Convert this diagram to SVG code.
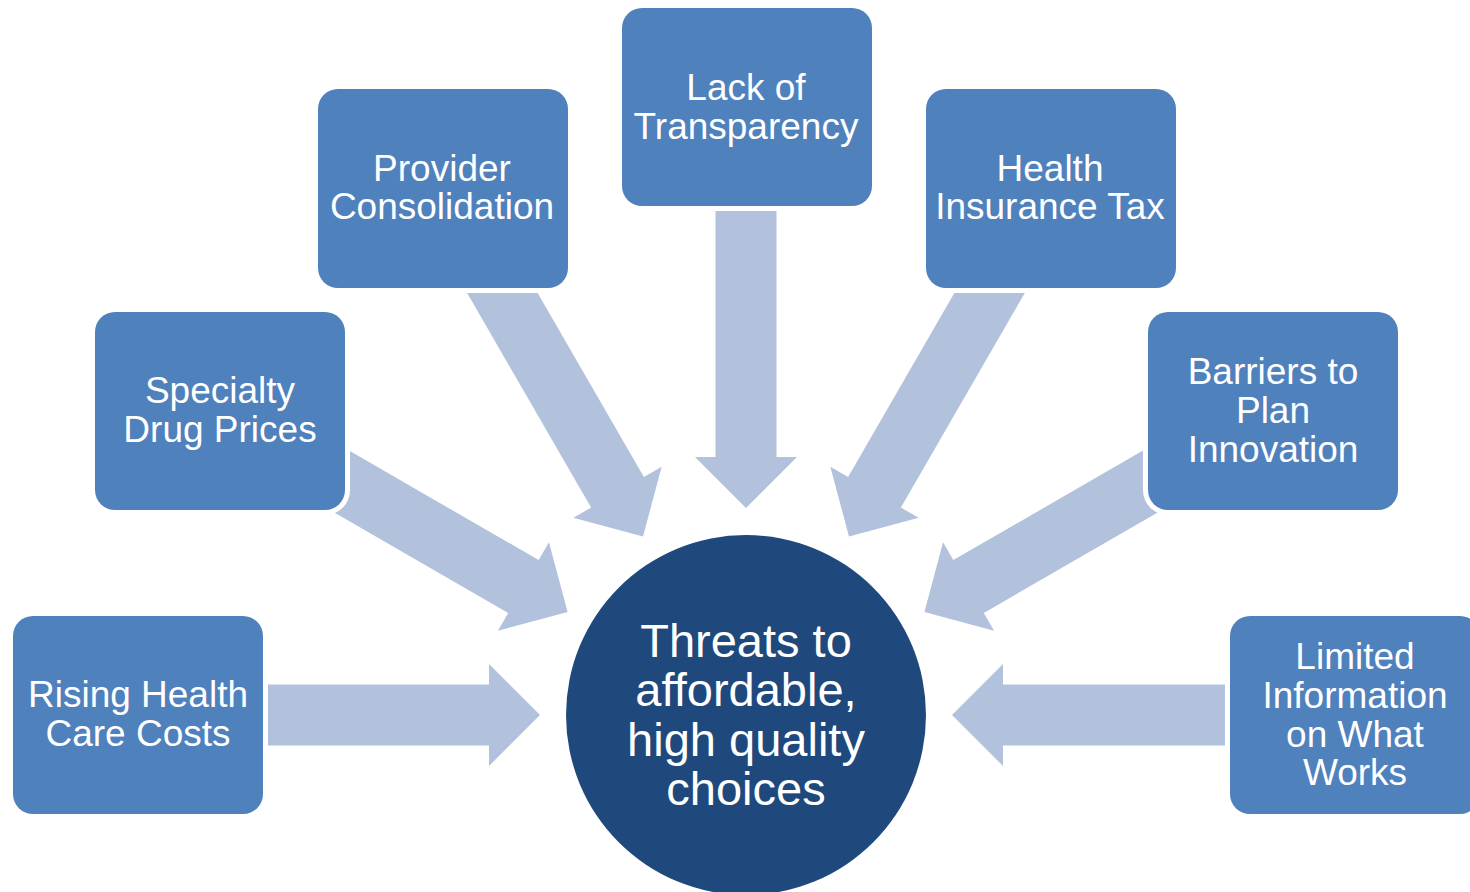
<svg xmlns="http://www.w3.org/2000/svg" width="1470" height="892" viewBox="0 0 1470 892">
<style>
.arrow{fill:#b2c2dc}
.box{fill:#4f81bd;stroke:#ffffff;stroke-width:10;paint-order:stroke}
.lbl{fill:#ffffff;font-family:"Liberation Sans",Arial,sans-serif;font-size:37px;text-anchor:middle}
.hub{fill:#ffffff;font-family:"Liberation Sans",Arial,sans-serif;font-size:47px;text-anchor:middle}
</style>
<defs>
<path id="arrS" d="M0,0 L-51,-51 L-51,-30.5 L-300,-30.5 L-300,30.5 L-51,30.5 L-51,51 Z"/>
<path id="arrL" d="M0,0 L-51,-51 L-51,-30.5 L-330,-30.5 L-330,30.5 L-51,30.5 L-51,51 Z"/>
</defs>
<rect width="1470" height="892" fill="#ffffff"/>
<g id="connectors">
<use href="#arrS" class="arrow" transform="translate(540,715)"/>
<use href="#arrL" class="arrow" transform="translate(567.6,612) rotate(30)"/>
<use href="#arrL" class="arrow" transform="translate(643,536.5) rotate(60)"/>
<use href="#arrL" class="arrow" transform="translate(746,508) rotate(90)"/>
<use href="#arrL" class="arrow" transform="translate(849,536.5) rotate(120)"/>
<use href="#arrL" class="arrow" transform="translate(924.4,612) rotate(150)"/>
<use href="#arrS" class="arrow" transform="translate(952,715) rotate(180)"/>
</g>
<g id="rising">
<rect class="box" x="13" y="616" width="250" height="198" rx="20"/>
<text class="lbl" x="138" y="707">Rising Health</text>
<text class="lbl" x="138" y="746">Care Costs</text>
</g>
<g id="specialty">
<rect class="box" x="95" y="312" width="250" height="198" rx="20"/>
<text class="lbl" x="220" y="403">Specialty</text>
<text class="lbl" x="220" y="442">Drug Prices</text>
</g>
<g id="provider">
<rect class="box" x="318" y="89" width="250" height="199" rx="20"/>
<text class="lbl" x="442" y="181">Provider</text>
<text class="lbl" x="442" y="219">Consolidation</text>
</g>
<g id="transparency">
<rect class="box" x="622" y="8" width="250" height="198" rx="20"/>
<text class="lbl" x="746" y="100">Lack of</text>
<text class="lbl" x="746" y="139">Transparency</text>
</g>
<g id="tax">
<rect class="box" x="926" y="89" width="250" height="199" rx="20"/>
<text class="lbl" x="1050" y="181">Health</text>
<text class="lbl" x="1050" y="219">Insurance Tax</text>
</g>
<g id="barriers">
<rect class="box" x="1148" y="312" width="250" height="198" rx="20"/>
<text class="lbl" x="1273" y="384">Barriers to</text>
<text class="lbl" x="1273" y="423">Plan</text>
<text class="lbl" x="1273" y="462">Innovation</text>
</g>
<g id="limited">
<rect class="box" x="1230" y="616" width="250" height="198" rx="20"/>
<text class="lbl" x="1355" y="669">Limited</text>
<text class="lbl" x="1355" y="708">Information</text>
<text class="lbl" x="1355" y="747">on What</text>
<text class="lbl" x="1355" y="785">Works</text>
</g>
<g id="threats">
<circle cx="746" cy="715" r="180" fill="#1f497d"/>
<text class="hub" x="746" y="657">Threats to</text>
<text class="hub" x="746" y="706">affordable,</text>
<text class="hub" x="746" y="756">high quality</text>
<text class="hub" x="746" y="805">choices</text>
</g>
</svg>
